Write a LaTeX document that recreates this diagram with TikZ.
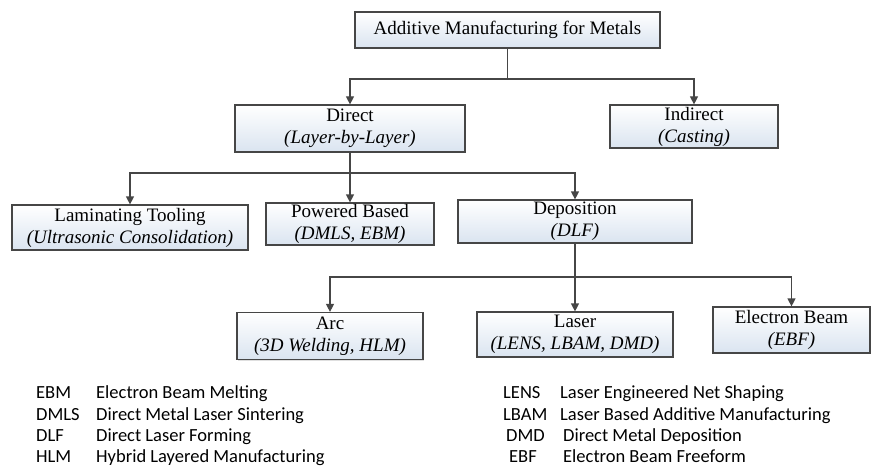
\documentclass[tikz,border=0pt]{standalone}
\usepackage{fontspec}
\setmainfont{Liberation Serif}
\newfontfamily\legendfont{Carlito}
\usetikzlibrary{arrows.meta,shadows}
\definecolor{boxline}{RGB}{70,70,70}
\definecolor{boxfill}{RGB}{218,228,240}

\begin{document}
\begin{tikzpicture}[x=1pt,y=-1pt,
	box/.style={draw=boxline,line width=1.2pt,top color=white,bottom color=boxfill,align=center,text=black,font=\fontsize{19}{22}\selectfont,inner sep=1pt,drop shadow={shadow xshift=1pt,shadow yshift=-1pt,opacity=0.25}},
	link/.style={draw=boxline,line width=1.2pt},
	arr/.style={link,-{Triangle[width=8pt,length=8pt]}},
	abbr/.style={anchor=base west,inner sep=0pt,font=\legendfont\fontsize{18.5}{20}\selectfont,text=black}]
\useasboundingbox (0,0) rectangle (873,468);

\node[box,minimum width=305pt,minimum height=36pt](am)at(507.5,30){Additive Manufacturing for Metals};
\node[box,minimum width=230pt,minimum height=47pt](direct)at(350,128.5){Direct\\\textit{(Layer-by-Layer)}};
\node[box,minimum width=168pt,minimum height=43pt](indirect)at(694,126.5){Indirect\\\textit{(Casting)}};
\node[box,minimum width=236pt,minimum height=45pt](lam)at(130,227.5){Laminating Tooling\\\textit{(Ultrasonic Consolidation)}};
\node[box,minimum width=168pt,minimum height=42pt](powder)at(350,224){Powered Based\\\textit{(DMLS, EBM)}};
\node[box,minimum width=234pt,minimum height=43pt](depo)at(575,221.5){Deposition\\\textit{(DLF)}};
\node[box,minimum width=186pt,minimum height=47pt](arc)at(330,336){Arc\\\textit{(3D Welding, HLM)}};
\node[box,minimum width=196pt,minimum height=45pt](laser)at(575,334.5){Laser\\\textit{(LENS, LBAM, DMD)}};
\node[box,minimum width=157pt,minimum height=46pt](ebeam)at(791.5,330){Electron Beam\\\textit{(EBF)}};

\coordinate(j1)at(507.5,79);
\coordinate(j2)at(350,173);
\coordinate(j3)at(575,277);

\draw[link](am.south)--(j1);
\draw[arr](j1)-|(direct.north);
\draw[arr](j1)-|(indirect.north);
\draw[link](direct.south)--(j2);
\draw[arr](j2)-|(lam.north);
\draw[arr](j2)--(powder.north);
\draw[arr](j2)-|(depo.north);
\draw[link](depo.south)--(j3);
\draw[arr](j3)-|(arc.north);
\draw[arr](j3)--(laser.north);
\draw[arr](j3)-|(ebeam.north);

\node[abbr](ebm)at(36,398){EBM};
\node[abbr](dmls)at(36,420){DMLS};
\node[abbr](dlf)at(36,441){DLF};
\node[abbr](hlm)at(36,462){HLM};
\node[abbr](ebmtxt)at(96,398){Electron Beam Melting};
\node[abbr](dmlstxt)at(96,420){Direct Metal Laser Sintering};
\node[abbr](dlftxt)at(96,441){Direct Laser Forming};
\node[abbr](hlmtxt)at(96,462){Hybrid Layered Manufacturing};

\node[abbr](lens)at(503,398){LENS};
\node[abbr](lbam)at(503,420){LBAM};
\node[abbr](dmd)at(506,441){DMD};
\node[abbr](ebf)at(509,462){EBF};
\node[abbr](lenstxt)at(560,398){Laser Engineered Net Shaping};
\node[abbr](lbamtxt)at(560,420){Laser Based Additive Manufacturing};
\node[abbr](dmdtxt)at(563,441){Direct Metal Deposition};
\node[abbr](ebftxt)at(563,462){Electron Beam Freeform};
\end{tikzpicture}
\end{document}
